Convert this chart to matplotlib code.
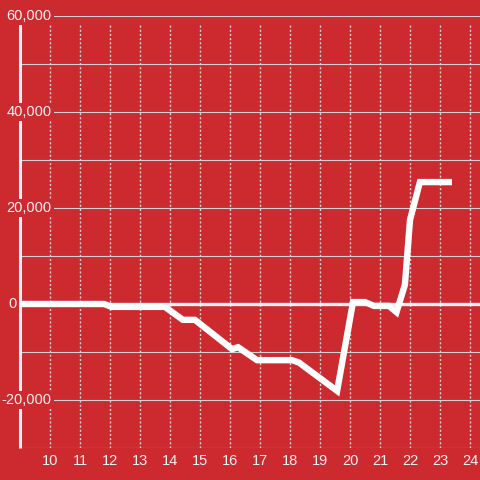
import matplotlib.pyplot as plt

bg = '#cc2a2f'
fg = '#f2f2f2'
grid_color = '#d2d2d2'

# values
days = [9.0, 11.8, 12.05, 13.83, 14.43, 14.83, 16.07, 16.27, 16.9, 18.07, 18.3,
        19.57, 20.1, 20.5, 20.8, 21.3, 21.55, 21.83, 22.0, 22.33, 23.4]
balance = [0, 0, -600, -600, -3300, -3300, -9400, -9000, -11700, -11700, -12200,
           -18100, 400, 400, -400, -400, -1700, 4000, 17500, 25400, 25400]

x_ticks = list(range(10, 25))
y_ticks = [60000, 40000, 20000, 0, -20000]
y_labels = ['60,000', '40,000', '20,000', '0', '-20,000']

plt.rcParams['font.family'] = ['Liberation Sans', 'DejaVu Sans']

fig = plt.figure(figsize=(4.8, 4.8), dpi=100, facecolor=bg)
ax = fig.add_axes([20/480, 32/480, 460/480, 432/480])
ax.set_facecolor(bg)
ax.set_xlim(9, 9 + 460/30)
ax.set_ylim(-30000, 60000)

for s in ax.spines.values():
    s.set_visible(False)
ax.set_xticks([])
ax.set_yticks([])

# horizontal grid
for yv in range(-30000, 60001, 10000):
    if yv == 0:
        continue
    ax.axhline(yv, color=grid_color, lw=0.8, zorder=1)

# vertical dotted grid
ax.vlines(x_ticks, -30000, 58300, colors=grid_color, lw=1, linestyles=(0, (1.5, 1.5)), zorder=1)

# zero line and left axis line
ax.plot([8.9, 24.4], [0, 0], color=fg, lw=2.4, zorder=2, clip_on=False)
ax.plot([9, 9], [-30000, 58300], color=fg, lw=2.2, zorder=2, clip_on=False, solid_capstyle='butt')

ax.plot(days, balance, color='white', lw=4.6, zorder=3, solid_capstyle='butt', solid_joinstyle='miter')

# y labels sit over the axis with a red box
for yv, lab in zip(y_ticks, y_labels):
    xpos = 9.0 if yv == 0 else 10.05
    ax.text(xpos - 0.1 if yv == 0 else xpos, yv, lab, ha='right', va='center', color=fg, fontsize=10.5,
            zorder=5, clip_on=False,
            bbox=dict(facecolor=bg, edgecolor='none', pad=1.5))

for xv in x_ticks:
    ax.text(xv, -32800, str(xv), ha='center', va='center', color=fg, fontsize=10.5, clip_on=False)

fig.savefig('out.png', dpi=100, facecolor=bg)
